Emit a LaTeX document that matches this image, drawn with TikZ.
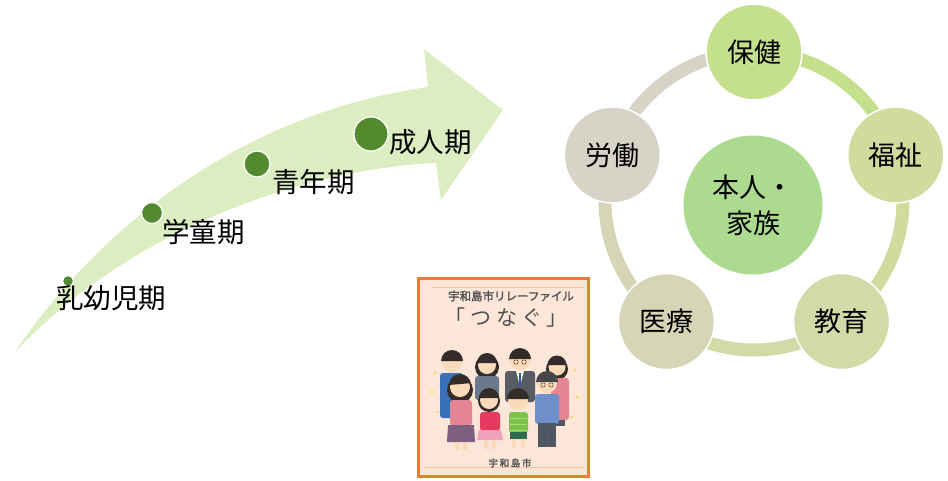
\documentclass[tikz,border=0pt]{standalone}
\usepackage{fontspec}
\setmainfont{Noto Sans CJK JP}
\newfontfamily\coverbold[FakeBold=1.6]{Noto Sans CJK JP}
\usetikzlibrary{calc}
\definecolor{bandgreen}{RGB}{220,237,194}
\definecolor{dotgreen}{RGB}{84,138,46}
\definecolor{coreG}{RGB}{172,219,143}
\definecolor{hokenC}{RGB}{197,224,140}
\definecolor{fukushiC}{RGB}{208,220,157}
\definecolor{kyoikuC}{RGB}{212,217,168}
\definecolor{iryoC}{RGB}{214,214,182}
\definecolor{rodoC}{RGB}{215,211,199}
\definecolor{coverline}{RGB}{237,125,49}
\definecolor{coverfill}{RGB}{252,230,216}
\definecolor{covertext}{RGB}{80,80,80}
\definecolor{skin}{RGB}{250,218,184}
\definecolor{hair}{RGB}{52,44,42}
\definecolor{greyhair}{RGB}{70,70,74}
\definecolor{shirtblue}{RGB}{58,112,184}
\definecolor{jacketgrey}{RGB}{106,122,140}
\definecolor{suit}{RGB}{89,93,99}
\definecolor{tie}{RGB}{60,90,170}
\definecolor{pinktop}{RGB}{229,132,146}
\definecolor{purpleskirt}{RGB}{125,96,128}
\definecolor{redtop}{RGB}{230,57,94}
\definecolor{pinkskirt}{RGB}{240,160,184}
\definecolor{greentop}{RGB}{125,194,75}
\definecolor{greenstripe}{RGB}{170,220,120}
\definecolor{shorts}{RGB}{45,107,76}
\definecolor{sweater}{RGB}{110,143,202}
\definecolor{pants}{RGB}{79,87,99}
\definecolor{sparkle}{RGB}{245,214,107}
\begin{document}
\begin{tikzpicture}[x=1pt,y=1pt,
  stage/.style={font=\fontsize{27.5}{30}\selectfont, anchor=west, inner sep=0pt},
  stagedot/.style={circle, fill=dotgreen, draw=white, line width=1.2pt, inner sep=0pt},
  field/.style={circle, minimum size=96pt, inner sep=0pt, draw=white, line width=1.5pt,
    font=\fontsize{27}{30}\selectfont},
  ring/.style={line width=13pt},
  face/.style={fill=skin},
]
\useasboundingbox (0,0) rectangle (948,-480);

% ---- life-stage arrow ----
\fill[bandgreen] (15,-352) .. controls (90,-240) and (230,-115) .. (428,-87)
  -- (424,-49) -- (503,-110) -- (441,-200) -- (436,-163)
  .. controls (320,-168) and (140,-220) .. (15,-352) -- cycle;

\node[stagedot, minimum size=11pt] (d1) at (68,-281) {};
\node[stagedot, minimum size=21pt] (d2) at (152,-213) {};
\node[stagedot, minimum size=26pt] (d3) at (257,-164) {};
\node[stagedot, minimum size=34pt] (d4) at (371,-134) {};

\node[stage] (s1) at (56,-298) {乳幼児期};
\node[stage] (s2) at (162,-232) {学童期};
\node[stage] (s3) at (272,-182) {青年期};
\node[stage] (s4) at (389,-142) {成人期};

% ---- support ring ----
\coordinate (hub) at (754,-201);
\draw[ring, hokenC]   ([shift={(90:149)}]hub)  arc[start angle=90,  end angle=18,   radius=149];
\draw[ring, fukushiC] ([shift={(18:149)}]hub)  arc[start angle=18,  end angle=-54,  radius=149];
\draw[ring, kyoikuC]  ([shift={(-54:149)}]hub) arc[start angle=-54, end angle=-126, radius=149];
\draw[ring, iryoC]    ([shift={(-126:149)}]hub) arc[start angle=-126, end angle=-198, radius=149];
\draw[ring, rodoC]    ([shift={(162:149)}]hub) arc[start angle=162, end angle=90,   radius=149];

\node[circle, fill=coreG, minimum size=139pt, inner sep=0pt, align=center,
  font=\fontsize{27}{36}\selectfont] (core) at (753,-205) {本人・\\家族};
\node[field, fill=hokenC]   (hoken)   at ([shift={(90:149)}]hub)   {保健};
\node[field, fill=fukushiC] (fukushi) at ([shift={(18:149)}]hub)   {福祉};
\node[field, fill=kyoikuC]  (kyoiku)  at ([shift={(-54:149)}]hub)  {教育};
\node[field, fill=iryoC]    (iryo)    at ([shift={(-126:149)}]hub) {医療};
\node[field, fill=rodoC]    (rodo)    at ([shift={(162:149)}]hub)  {労働};

% ---- relay-file cover ----
\draw[coverline, fill=coverfill, line width=3pt] (418,-278) rectangle (588,-476);
\draw[coverline!45, line width=0.8pt] (432,-287) -- (584,-287);
\draw[coverline!45, line width=0.8pt] (424,-467) -- (584,-467);
\node[font=\coverbold\fontsize{11.5}{12}\selectfont, text=covertext, inner sep=0pt] (ctitle) at (511,-296) {宇和島市リレーファイル};
\node[font=\fontsize{21}{22}\selectfont, text=covertext, inner sep=0pt] (cname) at (506,-318)
  {「\hspace{5pt}つ\hspace{5pt}な\hspace{5pt}ぐ\hspace{4pt}」};
\node[font=\coverbold\fontsize{9.5}{10}\selectfont, text=covertext, inner sep=0pt] (ccity) at (510,-463) {宇\,和\,島\,市};

% sparkles
\foreach \p in {(435,-373),(432,-392),(438,-412),(575,-370),(577,-397),(572,-417)}
  \fill[sparkle] \p circle (1.6);

% back row: father in blue
\fill[shirtblue, rounded corners=3] (440,-373) rectangle (463,-418);
\fill[face] (452,-362) circle (10);
\fill[hair] (441,-361) arc[start angle=180, end angle=0, radius=11] -- cycle;
% back row: mother in grey jacket
\fill[hair] (487,-367) circle (12);
\fill[jacketgrey, rounded corners=3] (475,-376) rectangle (499,-400);
\fill[face] (487,-365) circle (9);
\fill[hair] (477,-363) arc[start angle=180, end angle=0, radius=10] -- cycle;
% back row: man in suit
\fill[suit, rounded corners=3] (505,-371) rectangle (535,-402);
\fill[white] (516,-371) -- (524,-371) -- (520,-386) -- cycle;
\fill[tie] (519,-373) rectangle (521,-387);
\fill[face] (520,-360) circle (10);
\fill[hair] (509,-359) arc[start angle=180, end angle=0, radius=11] -- cycle;
\draw[hair, line width=0.4pt] (516,-362) circle (2.2) (524,-362) circle (2.2);
% back row: woman in pink
\fill[hair] (557,-369) circle (11);
\fill[pinktop, rounded corners=3] (551,-378) rectangle (569,-420);
\fill[pants] (555,-420) rectangle (565,-426);
\fill[face] (557,-367) circle (8.5);
\fill[hair] (547.5,-365) arc[start angle=180, end angle=0, radius=9.5] -- cycle;

% front row: woman in pink top and purple skirt
\fill[hair] (460,-390) circle (13);
\fill[pinktop, rounded corners=3] (450,-400) rectangle (472,-426);
\fill[purpleskirt] (448,-425) -- (474,-425) -- (475,-442) -- (447,-442) -- cycle;
\fill[face] (455,-442) rectangle (459,-450) (463,-442) rectangle (467,-450);
\fill[face] (460,-387) circle (10);
\fill[hair] (449,-385) arc[start angle=180, end angle=10, radius=11] -- cycle;
% front row: girl in red
\fill[hair] (489,-401) circle (11);
\fill[redtop, rounded corners=3] (480,-412) rectangle (500,-431);
\fill[pinkskirt] (479,-430) -- (501,-430) -- (503,-440) -- (477,-440) -- cycle;
\fill[face] (484,-440) rectangle (488,-449) (492,-440) rectangle (496,-449);
\fill[face] (489,-400) circle (9);
\fill[hair] (479,-398) arc[start angle=180, end angle=0, radius=10] -- cycle;
% front row: boy in green
\fill[greentop, rounded corners=3] (509,-412) rectangle (528,-433);
\foreach \yy in {-418,-424,-430} \draw[greenstripe, line width=1pt] (510,\yy) -- (527,\yy);
\fill[shorts] (510,-432) rectangle (527,-439);
\fill[face] (512,-439) rectangle (516,-448) (521,-439) rectangle (525,-448);
\fill[face] (518,-400) circle (10);
\fill[hair] (507,-399) arc[start angle=180, end angle=0, radius=11] -- cycle;
% front row: grandfather in blue sweater
\fill[sweater, rounded corners=3] (535,-394) rectangle (559,-424);
\fill[pants] (538,-423) rectangle (556,-447);
\draw[suit, line width=0.6pt] (547,-428) -- (547,-447);
\fill[face] (547,-383) circle (10);
\fill[greyhair] (536,-382) arc[start angle=180, end angle=0, radius=11] -- cycle;
\draw[hair, line width=0.4pt] (543,-385) circle (2.2) (551,-385) circle (2.2);
\end{tikzpicture}
\end{document}
